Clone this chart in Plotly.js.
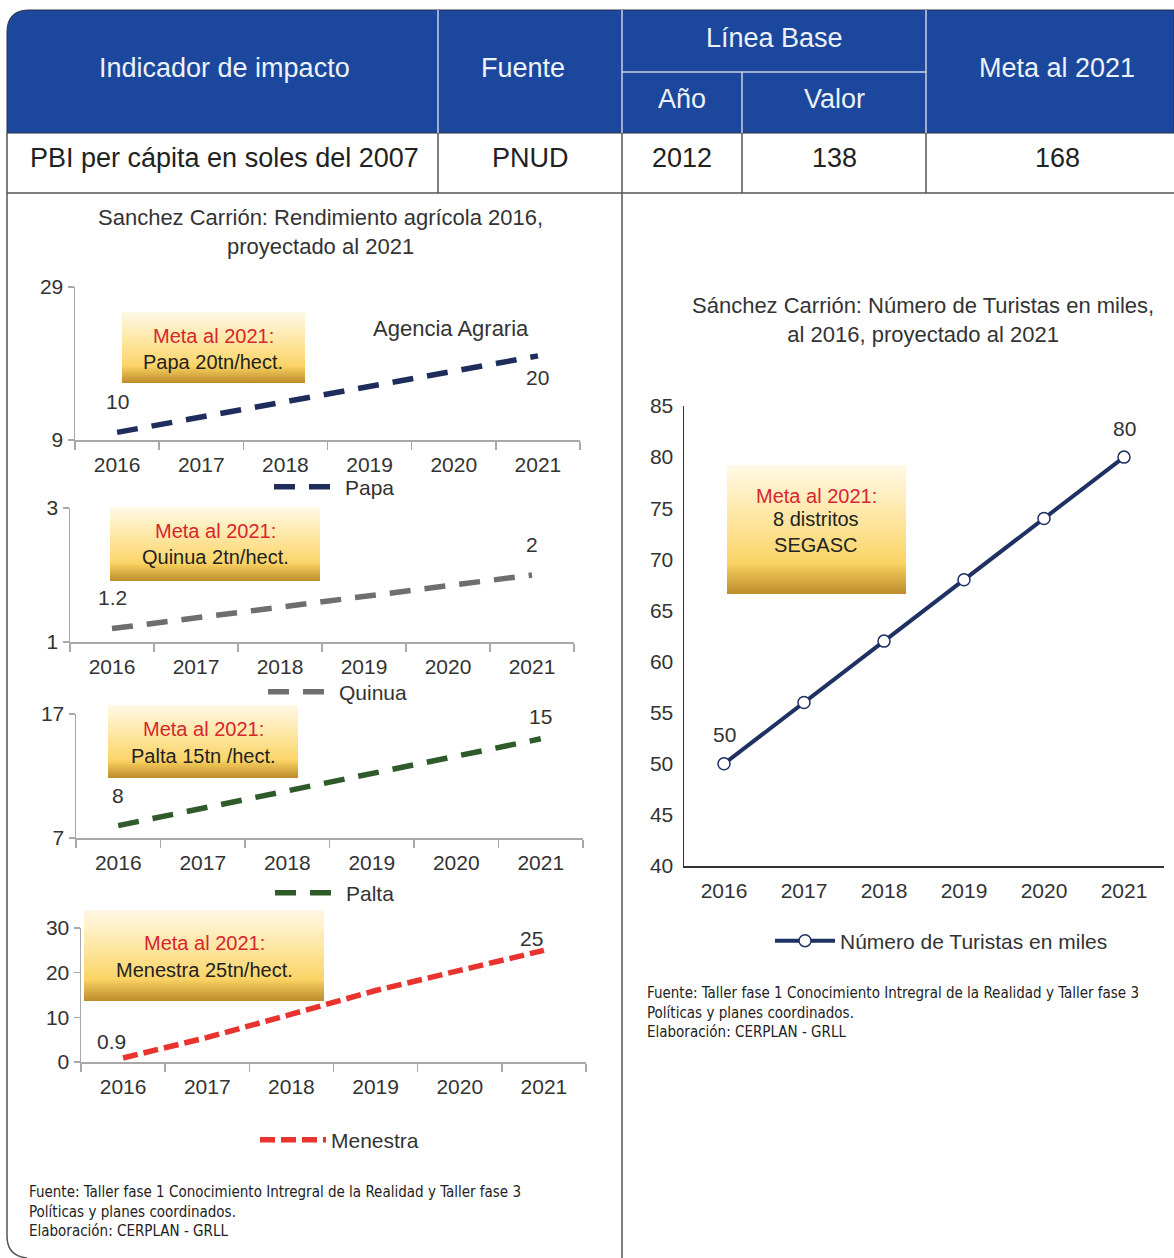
<!DOCTYPE html>
<html>
<head>
<meta charset="utf-8">
<script src="https://cdn.plot.ly/plotly-3.0.1.min.js"></script>
<style>html,body{margin:0;padding:0;background:#fff;}#chart{width:1174px;height:1258px;}</style>
</head>
<body>
<div id="chart"></div>
<script>
// ---------------- data ----------------
const years = ['2016', '2017', '2018', '2019', '2020', '2021'];
const papa = [10, 12, 14, 16, 18, 20];
const quinua = [1.2, 1.36, 1.52, 1.68, 1.84, 2.0];
const palta = [8, 9.4, 10.8, 12.2, 13.6, 15];
const menestra = [0.9, 5.5, 10.7, 16, 20.5, 25];
const turistas = [50, 56, 62, 68, 74, 80];

const papaLabels = ['10', '20'];
const quinuaLabels = ['1.2', '2'];
const paltaLabels = ['8', '15'];
const menestraLabels = ['0.9', '25'];
const turistasLabels = ['50', '80'];

const tableHeader = ['Indicador de impacto', 'Fuente', 'Línea Base', 'Año', 'Valor', 'Meta al 2021'];
const tableRow = ['PBI per cápita en soles del 2007', 'PNUD', '2012', '138', '168'];

// ---------------- helpers ----------------
const W = 1174, H = 1258;
const X = p => p / W;
const Y = p => 1 - p / H;
const FONT = 'Liberation Sans, Arial, sans-serif';
const NARROW = 'Liberation Sans Narrow, DejaVu Sans Condensed, Arial Narrow, sans-serif';
const TXT = '#333333';

function leftX(x0, x1, anchor) {
  return {domain: [X(x0), X(x1)], anchor: anchor, type: 'category', range: [-0.5, 5.5],
    showline: true, linecolor: '#A8A8A8', linewidth: 1.5, ticks: 'outside', tickson: 'boundaries',
    ticklen: 8, tickcolor: '#A8A8A8', tickwidth: 1.5, showgrid: false, zeroline: false, ticklabelstandoff: 5,
    tickfont: {family: FONT, size: 21, color: TXT}, fixedrange: true};
}
function leftY(y0, y1, anchor, rng, tv) {
  return {domain: [Y(y1), Y(y0)], anchor: anchor, range: rng, tickvals: tv,
    showline: true, linecolor: '#A8A8A8', linewidth: 1.5, ticks: 'outside', ticklen: 6,
    tickcolor: '#A8A8A8', tickwidth: 1.5, showgrid: false, zeroline: false,
    tickfont: {family: FONT, size: 21, color: TXT}, fixedrange: true};
}

const traces = [
  {x: years, y: papa, name: 'Papa', xaxis: 'x', yaxis: 'y', mode: 'lines', legend: 'legend',
   line: {color: '#1F2D5C', width: 5.5, dash: '21px,14px'}},
  {x: years, y: quinua, name: 'Quinua', xaxis: 'x2', yaxis: 'y2', mode: 'lines', legend: 'legend2',
   line: {color: '#6E6E6E', width: 5.5, dash: '21px,14px'}},
  {x: years, y: palta, name: 'Palta', xaxis: 'x3', yaxis: 'y3', mode: 'lines', legend: 'legend3',
   line: {color: '#2F5B2B', width: 5.5, dash: '21px,14px'}},
  {x: years, y: menestra, name: 'Menestra', xaxis: 'x4', yaxis: 'y4', mode: 'lines', legend: 'legend4',
   line: {color: '#E8332F', width: 5.5, dash: '15px,6px'}},
  {x: years, y: turistas, name: 'Número de Turistas en miles', xaxis: 'x5', yaxis: 'y5', mode: 'lines+markers', legend: 'legend5',
   line: {color: '#1F3062', width: 4}, marker: {symbol: 'circle', size: 12, color: '#ffffff', line: {color: '#1F3062', width: 1.5}}}
];

// ---------------- shapes (table + frames) ----------------
const BLUE = '#1B489C';
const shapes = [];
const r = 22;
shapes.push({type: 'path', xref: 'paper', yref: 'paper', layer: 'below',
  path: `M ${X(7)} ${Y(133)} L ${X(7)} ${Y(10 + r)} Q ${X(7)} ${Y(10)} ${X(7 + r)} ${Y(10)} L ${X(1174)} ${Y(10)} L ${X(1174)} ${Y(133)} Z`,
  fillcolor: BLUE, line: {color: '#2a2f45', width: 1}});
const lightLine = {color: '#C9D2E6', width: 1.5};
const darkLine = {color: '#555555', width: 1.5};
function vline(x, y0, y1, line) { shapes.push({type: 'line', xref: 'paper', yref: 'paper', x0: X(x), x1: X(x), y0: Y(y0), y1: Y(y1), line: line}); }
function hline(y, x0, x1, line) { shapes.push({type: 'line', xref: 'paper', yref: 'paper', x0: X(x0), x1: X(x1), y0: Y(y), y1: Y(y), line: line}); }
vline(438, 10, 133, lightLine);
vline(622, 10, 133, lightLine);
vline(926, 10, 133, lightLine);
vline(742, 72, 133, lightLine);
hline(72, 622, 926, lightLine);
vline(438, 133, 193, darkLine);
vline(622, 133, 193, darkLine);
vline(742, 133, 193, darkLine);
vline(926, 133, 193, darkLine);
hline(193, 7, 1174, darkLine);
shapes.push({type: 'path', xref: 'paper', yref: 'paper',
  path: `M ${X(7)} ${Y(133)} L ${X(7)} ${Y(1236)} Q ${X(7)} ${Y(1256)} ${X(27)} ${Y(1258)}`,
  line: darkLine});
vline(622, 193, 1258, darkLine);

// ---------------- gradient boxes ----------------
const gradSvg = "<svg xmlns='http://www.w3.org/2000/svg' width='100' height='100' viewBox='0 0 100 100' preserveAspectRatio='none'>" +
  "<defs><linearGradient id='g' x1='0' y1='0' x2='0' y2='1'>" +
  "<stop offset='0' stop-color='#FFF8E6'/><stop offset='0.4' stop-color='#FEE7A4'/>" +
  "<stop offset='0.76' stop-color='#FBD467'/><stop offset='0.8' stop-color='#F0C658'/>" +
  "<stop offset='1' stop-color='#BC8C2B'/></linearGradient></defs>" +
  "<rect x='0' y='0' width='100' height='100' fill='url(#g)'/></svg>";
const gradSrc = 'data:image/svg+xml;base64,' + btoa(gradSvg);
function box(x0, y0, x1, y1) {
  return {source: gradSrc, xref: 'paper', yref: 'paper', x: X(x0), y: Y(y0), sizex: (x1 - x0) / W, sizey: (y1 - y0) / H,
    xanchor: 'left', yanchor: 'top', sizing: 'stretch', layer: 'above'};
}
const images = [box(122, 312, 305, 383), box(110, 507, 320, 581), box(108, 705, 298, 778), box(84, 910, 324, 1001), box(727, 465, 906, 594)];

// ---------------- annotations ----------------
const annotations = [];
function txt(text, x, y, size, color, opts) {
  annotations.push(Object.assign({text: text, xref: 'paper', yref: 'paper', x: X(x), y: Y(y), showarrow: false,
    xanchor: 'center', yanchor: 'middle', font: {family: FONT, size: size, color: color}}, opts || {}));
}
const HDR = '#EEF1F8';
txt(tableHeader[0], 224, 68, 27, HDR);
txt(tableHeader[1], 523, 68, 27, HDR);
txt(tableHeader[2], 774, 38, 27, HDR);
txt(tableHeader[3], 682, 99, 27, HDR);
txt(tableHeader[4], 834, 99, 27, HDR);
txt(tableHeader[5], 1057, 68, 27, HDR);
txt(tableRow[0], 224, 158, 27, '#222');
txt(tableRow[1], 530, 158, 27, '#222');
txt(tableRow[2], 682, 158, 27, '#222');
txt(tableRow[3], 834, 158, 27, '#222');
txt(tableRow[4], 1057, 158, 27, '#222');

txt('Sanchez Carrión: Rendimiento agrícola 2016,<br>proyectado al 2021', 320, 232, 22, TXT);
txt('Sánchez Carrión: Número de Turistas en miles,<br>al 2016, proyectado al 2021', 923, 320, 22, TXT);
txt('Agencia Agraria', 451, 328, 22, TXT);

const RED = '#D7262E';
txt('Meta al 2021:', 213, 336, 20, RED); txt('Papa 20tn/hect.', 213, 362, 20, '#222');
txt('Meta al 2021:', 215, 531, 20, RED); txt('Quinua 2tn/hect.', 215, 557, 20, '#222');
txt('Meta al 2021:', 203, 729, 20, RED); txt('Palta 15tn /hect.', 203, 756, 20, '#222');
txt('Meta al 2021:', 204, 943, 20, RED); txt('Menestra 25tn/hect.', 204, 970, 20, '#222');
txt('Meta al 2021:', 816, 496, 20, RED); txt('8 distritos<br>SEGASC', 816, 532, 20, '#222');

const foot = 'Fuente: Taller fase 1 Conocimiento Intregral de la Realidad y Taller fase 3<br>Políticas y planes coordinados.<br>Elaboración: CERPLAN - GRLL';
txt(foot, 27, 1211, 15, '#222', {xanchor: 'left', align: 'left', font: {family: NARROW, size: 15, color: '#222'}});
txt(foot, 645, 1012, 15, '#222', {xanchor: 'left', align: 'left', font: {family: NARROW, size: 15, color: '#222'}});

// data labels anchored on data points (category index positions)
function dlab(text, xa, ya, idx, yv, ys, xs) {
  annotations.push({text: text, xref: xa, yref: ya, x: idx, y: yv, yshift: ys, xshift: xs || 0, showarrow: false,
    xanchor: 'center', yanchor: 'middle', font: {family: FONT, size: 21, color: TXT}});
}
const first = 0, last = years.length - 1;
dlab(papaLabels[0], 'x', 'y', first, papa[first], 31);
dlab(papaLabels[1], 'x', 'y', last, papa[last], -22);
dlab(quinuaLabels[0], 'x2', 'y2', first, quinua[first], 31);
dlab(quinuaLabels[1], 'x2', 'y2', last, quinua[last], 31);
dlab(paltaLabels[0], 'x3', 'y3', first, palta[first], 30);
dlab(paltaLabels[1], 'x3', 'y3', last, palta[last], 22);
dlab(menestraLabels[0], 'x4', 'y4', first, menestra[first], 16, -12);
dlab(menestraLabels[1], 'x4', 'y4', last, menestra[last], 12, -12);
dlab(turistasLabels[0], 'x5', 'y5', first, turistas[first], 29);
dlab(turistasLabels[1], 'x5', 'y5', last, turistas[last], 29);

function leg(x, y, iw) {
  return {x: X(x), y: Y(y), xanchor: 'left', yanchor: 'middle', bgcolor: 'rgba(0,0,0,0)', itemwidth: iw || 66,
    font: {family: FONT, size: 21, color: TXT}, orientation: 'h'};
}

const layout = {
  width: W, height: H, autosize: false, margin: {l: 0, r: 0, t: 0, b: 0},
  paper_bgcolor: '#ffffff', plot_bgcolor: 'rgba(0,0,0,0)',
  font: {family: FONT, color: TXT},
  xaxis: leftX(75, 580, 'y'), yaxis: leftY(287, 440, 'x', [9, 29], [9, 29]),
  xaxis2: leftX(70, 574, 'y2'), yaxis2: leftY(508, 642, 'x2', [1, 3], [1, 3]),
  xaxis3: leftX(76, 583, 'y3'), yaxis3: leftY(714, 838, 'x3', [7, 17], [7, 17]),
  xaxis4: leftX(81, 586, 'y4'), yaxis4: leftY(928, 1062, 'x4', [0, 30], [0, 10, 20, 30]),
  xaxis5: {domain: [X(684), X(1164)], anchor: 'y5', type: 'category', range: [-0.5, 5.5], showline: true,
    linecolor: '#333', linewidth: 1.5, ticks: '', showgrid: false, zeroline: false, ticklabelstandoff: 5,
    tickfont: {family: FONT, size: 21, color: TXT}},
  yaxis5: {domain: [Y(866), Y(406)], anchor: 'x5', range: [40, 85], dtick: 5, tick0: 40, showline: true,
    linecolor: '#333', linewidth: 1.5, ticks: '', showgrid: false, zeroline: false, ticklabelstandoff: 5,
    tickfont: {family: FONT, size: 21, color: TXT}},
  legend: leg(269, 487), legend2: leg(263, 692), legend3: leg(270, 893), legend4: leg(255, 1140), legend5: leg(770, 941, 60),
  shapes: shapes, images: images, annotations: annotations, showlegend: true
};

Plotly.newPlot('chart', traces, layout, {displayModeBar: false, staticPlot: true});
</script>
</body>
</html>
